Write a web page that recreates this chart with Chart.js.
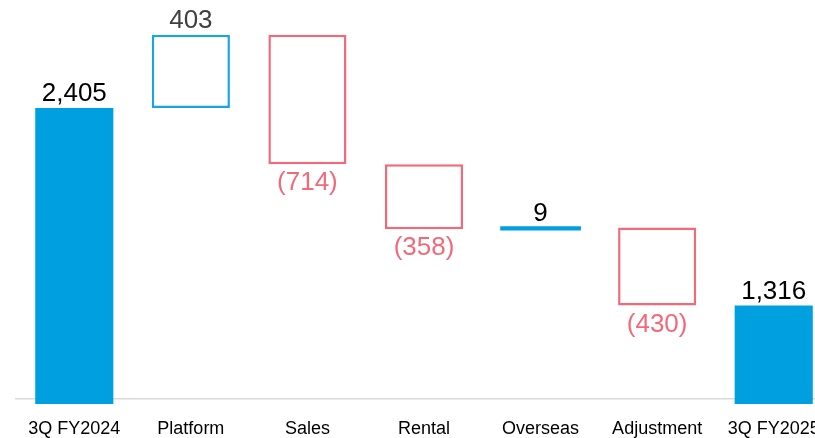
<!DOCTYPE html>
<html>
<head>
<meta charset="utf-8">
<script src="https://cdn.jsdelivr.net/npm/chart.js@4.4.1/dist/chart.umd.min.js"></script>
<style>
    html, body { margin: 0; padding: 0; background: #fff; overflow: hidden; }
    #wrap { position: relative; width: 832px; height: 438px; }
</style>
</head>
<body>
<div id="wrap"><canvas id="chart1"></canvas></div>
<script>
// waterfall data
const categories = ['3Q FY2024', 'Platform', 'Sales', 'Rental', 'Overseas', 'Adjustment', '3Q FY2025'];
const changes = [2405, 403, -714, -358, 9, -430, 1316];
const isTotal = [true, false, false, false, false, false, true];
const valueLabels = ['2,405', '403', '(714)', '(358)', '9', '(430)', '1,316'];
const axisMin = 800;
const axisMax = 3000;
const barFloor = 772; // totals run a little below the axis line

const BLUE = '#009fdf';
const OUTLINE_BLUE = '#1ba3e6';
const RED = '#f26a7a';

// build floating ranges from the running total
let running = 0;
const ranges = changes.map((v, i) => {
    if (isTotal[i]) {
        running = v;
        return [barFloor, v];
    }
    const start = running;
    running += v;
    return [start, running];
});

// tiny moves are drawn as a solid line
const isSmall = changes.map((v, i) => !isTotal[i] && Math.abs(v) < 50);

const fillColors = changes.map((v, i) => (isTotal[i] || isSmall[i]) ? BLUE : '#ffffff');
const borderColors = changes.map((v, i) => {
    if (isTotal[i] || isSmall[i]) return BLUE;
    return v > 0 ? OUTLINE_BLUE : RED;
});
const borderWidths = changes.map((v, i) => isTotal[i] || isSmall[i] ? 0 : 2.5);
const inflate = changes.map((v, i) => isSmall[i] ? 1.3 : 'auto');
const labelColors = changes.map((v, i) => {
    if (v < 0) return RED;
    if (!isTotal[i] && !isSmall[i]) return '#404040';
    return '#000000';
});

const valueLabelPlugin = {
    id: 'valueLabels',
    afterDatasetsDraw(chart) {
        const ctx = chart.ctx;
        const meta = chart.getDatasetMeta(0);
        ctx.save();
        ctx.font = '26px "Liberation Sans", Arial, sans-serif';
        ctx.textAlign = 'center';
        meta.data.forEach((bar, i) => {
            const top = Math.min(bar.y, bar.base);
            const bottom = Math.max(bar.y, bar.base);
            ctx.fillStyle = labelColors[i];
            if (changes[i] < 0) {
                ctx.textBaseline = 'top';
                ctx.fillText(valueLabels[i], bar.x, bottom + 6);
            } else {
                ctx.textBaseline = 'bottom';
                ctx.fillText(valueLabels[i], bar.x, top - 1);
            }
        });
        ctx.restore();
    }
};

const chart1 = document.getElementById('chart1');
new Chart(chart1, {
    type: 'bar',
    data: {
        labels: categories,
        datasets: [{
            data: ranges,
            backgroundColor: fillColors,
            borderColor: borderColors,
            borderWidth: borderWidths,
            borderSkipped: false,
            inflateAmount: inflate,
            barPercentage: 1,
            categoryPercentage: 0.67,
            clip: false
        }]
    },
    options: {
        responsive: true,
        maintainAspectRatio: false,
        animation: false,
        layout: {
            padding: {left: 16, right: 0, top: 0, bottom: 0}
        },
        plugins: {
            legend: {display: false},
            tooltip: {enabled: false}
        },
        scales: {
            y: {
                display: false,
                min: axisMin,
                max: axisMax
            },
            x: {
                grid: {display: false, drawTicks: false},
                border: {display: true, color: '#d9d9d9', width: 1.5},
                ticks: {
                    color: '#000000',
                    padding: 19,
                    maxRotation: 0,
                    autoSkip: false,
                    font: {family: '"Liberation Sans", Arial, sans-serif', size: 18}
                },
                afterFit(scale) {
                    scale.height = 39;
                    scale.paddingRight = 0;
                    scale.paddingLeft = 0;
                }
            }
        }
    },
    plugins: [valueLabelPlugin]
});
</script>
</body>
</html>
